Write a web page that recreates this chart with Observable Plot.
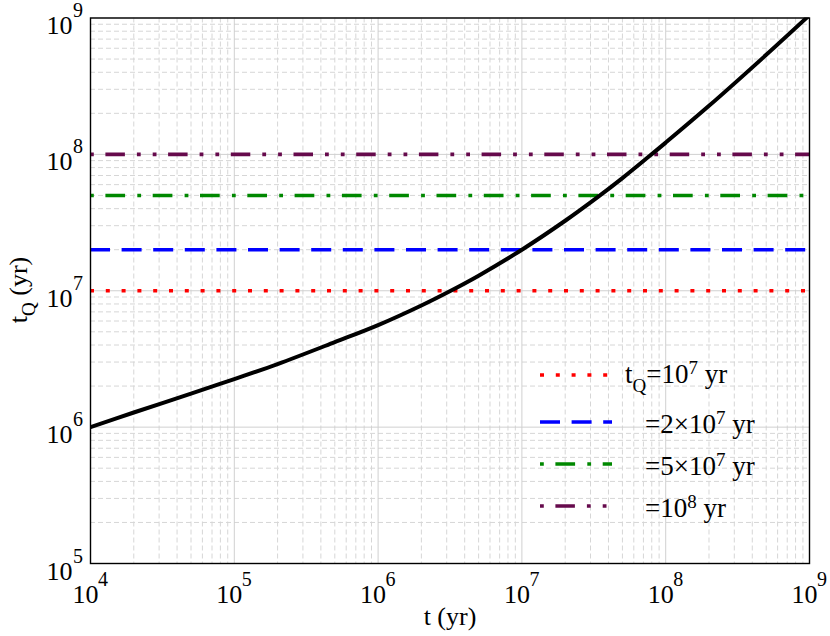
<!DOCTYPE html>
<html>
<head>
<meta charset="utf-8">
<script src="https://cdn.jsdelivr.net/npm/d3@7"></script>
<script src="https://cdn.jsdelivr.net/npm/@observablehq/plot@0.6"></script>
<style>
  html, body { margin: 0; padding: 0; background: white; }
  #chart { width: 830px; height: 636px; }
</style>
</head>
<body>
<div id="chart"></div>
<script>
// ---- data ----
const curveT  = [1e4, 2e4, 5e4, 1e5, 2e5, 5e5, 1e6, 2e6, 3.2e6, 5e6, 1e7, 2e7, 3.4e7, 5e7, 7.6e7, 1e8, 2e8, 5e8, 1e9];
const curveTQ = [1.0e6, 1.28e6, 1.76e6, 2.25e6, 2.9e6, 4.2e6, 5.6e6, 7.8e6, 1.0e7, 1.29e7, 2.0e7, 3.26e7, 4.9e7, 6.7e7, 9.6e7, 1.22e8, 2.27e8, 5.37e8, 1.05e9];

const levelValues = [1e7, 2e7, 5e7, 1e8];
const levelColors = ["#ff0000", "#0000ff", "#008800", "#660a4c"];
const levelMantissa = ["", "2×", "5×", ""];
const levelExp = ["7", "7", "7", "8"];

const xTickValues = [1e4, 1e5, 1e6, 1e7, 1e8, 1e9];
const yTickValues = [1e5, 1e6, 1e7, 1e8, 1e9];
const xLabel = "t (yr)";

// ---- styles ----
const dashes = ["4,11.8", "20,11.6", "19.7,12.2,3.8,11.6", "19.5,12,3.8,12,3.8,11.6"];
const dashOffsets = [0, 0, 31.9, 47.3];
const FONT = "'Liberation Serif', 'Times New Roman', serif";

const curve = curveT.map((t, i) => ({t, tq: curveTQ[i]}));
const levels = levelValues.map((v, i) => ({v, i}));

const allX = d3.scaleLog().domain([1e4, 1e9]).ticks();
const allY = d3.scaleLog().domain([1e5, 1e9]).ticks();
const isMajor = d => Math.abs(Math.log10(d) - Math.round(Math.log10(d))) < 1e-9;
const minorX = allX.filter(d => !isMajor(d));
const minorY = allY.filter(d => !isMajor(d));

const svg = Plot.plot({
  width: 830,
  height: 636,
  marginLeft: 90,
  marginRight: 21,
  marginTop: 17.5,
  marginBottom: 73,
  style: {fontFamily: FONT, background: "white", color: "black"},
  x: {type: "log", domain: [1e4, 1e9], axis: null},
  y: {type: "log", domain: [1e5, 1e9], axis: null},
  marks: [
    Plot.gridX(minorX, {stroke: "#d6d6d6", strokeOpacity: 1, strokeDasharray: "5,3"}),
    Plot.gridY(minorY, {stroke: "#d6d6d6", strokeOpacity: 1, strokeDasharray: "5,3"}),
    Plot.gridX(xTickValues, {stroke: "#d0d0d0", strokeOpacity: 1}),
    Plot.gridY(yTickValues, {stroke: "#d0d0d0", strokeOpacity: 1}),
    ...levels.map(d => Plot.ruleY([d.v], {
      stroke: levelColors[d.i], strokeWidth: 3.6,
      strokeDasharray: dashes[d.i], strokeDashoffset: dashOffsets[d.i]
    })),
    Plot.line(curve, {x: "t", y: "tq", stroke: "black", strokeWidth: 4, clip: true, curve: "catmull-rom"}),
    Plot.frame({stroke: "black", strokeWidth: 1.4}),
    // x tick labels
    Plot.text(xTickValues, {x: d => d, text: () => "10", frameAnchor: "bottom", lineAnchor: "bottom",
      dx: -5, dy: 39, fontSize: 26, fill: "black"}),
    Plot.text(xTickValues, {x: d => d, text: d => String(Math.round(Math.log10(d))), frameAnchor: "bottom",
      lineAnchor: "bottom", textAnchor: "start", dx: 7.5, dy: 22, fontSize: 20, fill: "black"}),
    // y tick labels
    Plot.text(yTickValues, {y: d => d, text: () => "10", frameAnchor: "left", lineAnchor: "bottom",
      textAnchor: "end", dx: -18, dy: 16, fontSize: 26, fill: "black"}),
    Plot.text(yTickValues, {y: d => d, text: d => String(Math.round(Math.log10(d))), frameAnchor: "left",
      lineAnchor: "bottom", textAnchor: "start", dx: -17.5, dy: -1, fontSize: 20, fill: "black"})
  ]
});

const root = d3.select(svg);

// axis labels
root.append("text")
  .attr("x", 450).attr("y", 625)
  .attr("text-anchor", "middle")
  .attr("font-family", FONT).attr("font-size", 26).attr("fill", "black")
  .text(xLabel);

const yl = root.append("text")
  .attr("transform", "translate(27,290) rotate(-90)")
  .attr("text-anchor", "middle")
  .attr("font-family", FONT).attr("font-size", 26).attr("fill", "black");
yl.append("tspan").text("t");
yl.append("tspan").attr("font-size", 19).attr("dy", 8).text("Q");
yl.append("tspan").attr("dy", -8).text(" (yr)");

// legend
const legY = [375, 422, 464, 506];
const legTextY = [383, 433, 475, 517];
const legendOffsets = [0, 0, 31.9, 47.3];
const lg = root.append("g").attr("text-anchor", "start");
levels.forEach(d => {
  const i = d.i;
  lg.append("line")
    .attr("x1", 540).attr("x2", i === 0 ? 608 : 612)
    .attr("y1", legY[i]).attr("y2", legY[i])
    .attr("stroke", levelColors[i]).attr("stroke-width", 3.6)
    .attr("stroke-dasharray", dashes[i]).attr("stroke-dashoffset", legendOffsets[i]);
  const t = lg.append("text")
    .attr("x", i === 0 ? 625 : 645).attr("y", legTextY[i])
    .attr("text-anchor", "start")
    .attr("font-family", FONT).attr("font-size", 27).attr("fill", "black");
  if (i === 0) {
    t.append("tspan").text("t");
    t.append("tspan").attr("font-size", 19).attr("dy", 9).text("Q");
    t.append("tspan").attr("dy", -9).text("=" + levelMantissa[i] + "10");
  } else {
    t.append("tspan").text("=" + levelMantissa[i] + "10");
  }
  t.append("tspan").attr("font-size", 19).attr("dy", -9).text(levelExp[i]);
  t.append("tspan").attr("dy", 9).text(" yr");
});

document.getElementById("chart").appendChild(svg);
</script>
</body>
</html>
